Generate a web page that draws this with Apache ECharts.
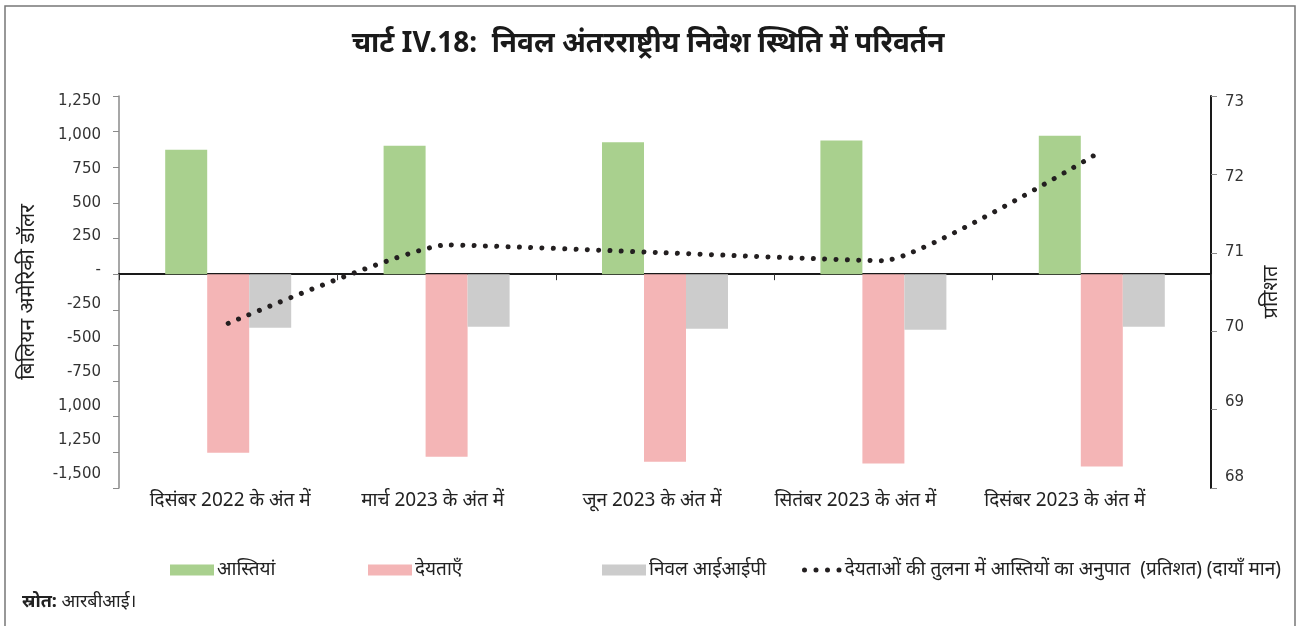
<!DOCTYPE html>
<html>
<head>
<meta charset="utf-8">
<script src="https://cdn.jsdelivr.net/npm/echarts@6/dist/echarts.min.js"></script>
<style>
  html, body { margin: 0; padding: 0; background: #ffffff; }
  #chart { width: 1296px; height: 626px; }
</style>
</head>
<body>
<div id="chart"></div>
<script>
// Quarter-end positions
const categories = ['दिसंबर 2022 के अंत में', 'मार्च 2023 के अंत में', 'जून 2023 के अंत में', 'सितंबर 2023 के अंत में', 'दिसंबर 2023 के अंत में'];
// Billion US dollars
const assets = [873, 901, 925, 937, 972];
const liabilities = [-1252, -1280, -1315, -1329, -1350];
const netIIP = [-375, -368, -382, -389, -368];
// Per cent, right scale
const ratio = [70.1, 71.1, 71.0, 70.9, 72.3];

const seriesNames = ['आस्तियां', 'देयताएँ', 'निवल आईआईपी', 'देयताओं की तुलना में आस्तियों का अनुपात  (प्रतिशत) (दायाँ मान)'];
const leftTickValues = [1250, 1000, 750, 500, 250, 0, -250, -500, -750, -1000, -1250, -1500];
const leftTickLabels = ['1,250', '1,000', '750', '500', '250', '-', '-250', '-500', '-750', '1,000', '1,250', '-1,500'];
const rightTickValues = [73, 72, 71, 70, 69, 68];

const FONT = '"Noto Sans", "Liberation Sans", sans-serif';
const NUMFONT = '"DejaVu Sans", sans-serif';
const DOTS = 'path://M0,2.5a2.5,2.5 0 1,0 5,0a2.5,2.5 0 1,0 -5,0M11.5,2.5a2.5,2.5 0 1,0 5,0a2.5,2.5 0 1,0 -5,0M23,2.5a2.5,2.5 0 1,0 5,0a2.5,2.5 0 1,0 -5,0M34.5,2.5a2.5,2.5 0 1,0 5,0a2.5,2.5 0 1,0 -5,0';

// Plot box (px)
const PLOT_TOP = 96, PLOT_BOTTOM = 488;

// Tick labels sit on their own even spacing, a little tighter than the ticks.
function labelShift(i, count, firstY, step) {
  const tickY = PLOT_TOP + i * (PLOT_BOTTOM - PLOT_TOP) / (count - 1);
  return firstY + i * step - tickY;
}
function vRich(count, firstY, step, font, size) {
  const rich = {};
  for (let i = 0; i < count; i++) {
    const d = labelShift(i, count, firstY, step);
    rich['t' + i] = {
      fontFamily: font, fontSize: size, color: '#333',
      padding: d >= 0 ? [2 * d, 0, 0, 0] : [0, 0, -2 * d, 0]
    };
  }
  return rich;
}
const leftRich = vRich(leftTickValues.length, 101, 33.9, NUMFONT, 15);
const rightRich = vRich(rightTickValues.length, 102, 75, NUMFONT, 15);

// Horizontal nudges of the category labels (px, + to the right)
const catShift = [2, -14, -13, -28, -37];
const catRich = {};
catShift.forEach(function (s, i) {
  catRich['c' + i] = {
    fontFamily: FONT, fontSize: 19, color: '#222',
    padding: s >= 0 ? [0, 0, 0, 2 * s] : [0, -2 * s, 0, 0]
  };
});

function legendAt(name, left, icon, w, h, color) {
  return {
    data: [{ name: name, icon: icon, itemStyle: { color: color, borderWidth: 0 } }],
    left: left, top: 553,
    itemWidth: w, itemHeight: h, itemGap: 0,
    selectedMode: false,
    textStyle: { fontFamily: FONT, fontSize: 19, color: '#222', lineHeight: 24, padding: [0, 0, 0, -2] }
  };
}

const chart = echarts.init(document.getElementById('chart'), null, { renderer: 'canvas' });
chart.setOption({
  backgroundColor: '#ffffff',
  animation: false,
  title: {
    text: 'चार्ट IV.18:  निवल अंतरराष्ट्रीय निवेश स्थिति में परिवर्तन',
    left: 'center', top: 25,
    textStyle: { fontFamily: FONT, fontSize: 28, fontWeight: 'bold', color: '#1a1a1a' }
  },
  graphic: [
    { type: 'rect', shape: { x: 5, y: 6, width: 1290, height: 640 }, style: { fill: 'none', stroke: '#777', lineWidth: 1.5 }, silent: true },
    {
      type: 'text', left: 22, top: 593,
      style: {
        text: '{b|स्रोत:} आरबीआई।',
        font: '18px ' + FONT, fill: '#222',
        rich: { b: { fontWeight: 'bold', fontSize: 18, fontFamily: FONT, fill: '#222' } }
      }
    }
  ],
  legend: [
    legendAt(seriesNames[0], 165, 'rect', 44, 11, '#a9d08e'),
    legendAt(seriesNames[1], 363, 'rect', 44, 11, '#f4b5b6'),
    legendAt(seriesNames[2], 597, 'rect', 44, 11, '#cccccc'),
    legendAt(seriesNames[3], 797, DOTS, 40, 5, '#231f20')
  ],
  grid: { left: 119, right: 85, top: PLOT_TOP, bottom: 626 - PLOT_BOTTOM, containLabel: false },
  xAxis: [
    {
      type: 'category', data: categories, position: 'bottom',
      axisLine: { show: false, onZero: false }, axisTick: { show: false },
      axisLabel: {
        margin: 3, interval: 0, rich: catRich,
        formatter: function (v, i) { return '{c' + i + '|' + v + '}'; }
      }
    },
    {
      type: 'category', data: categories, position: 'bottom',
      axisLine: { show: true, onZero: true, onZeroAxisIndex: 0, lineStyle: { color: '#1a1a1a', width: 2 } },
      axisTick: { show: true, length: 6, lineStyle: { color: '#333', width: 1 } },
      axisLabel: { show: false }
    }
  ],
  yAxis: [
    {
      type: 'value', min: -1500, max: 1250, interval: 250, position: 'left',
      name: 'बिलियन अमेरिकी डॉलर', nameLocation: 'middle', nameRotate: 90, nameGap: 80,
      nameTextStyle: { fontFamily: FONT, fontSize: 21, color: '#222' },
      axisLine: { show: true, lineStyle: { color: '#8a8a8a', width: 1.5 } },
      axisTick: { show: true, length: 6, lineStyle: { color: '#8a8a8a' } },
      splitLine: { show: false },
      axisLabel: {
        margin: 18, rich: leftRich,
        formatter: function (v) {
          const i = leftTickValues.indexOf(v);
          return i >= 0 ? '{t' + i + '|' + leftTickLabels[i] + '}' : '';
        }
      }
    },
    {
      type: 'value', min: 68, max: 73, interval: 1, position: 'right',
      name: 'प्रतिशत', nameLocation: 'middle', nameRotate: 90, nameGap: 50,
      nameTextStyle: { fontFamily: FONT, fontSize: 20, color: '#222' },
      axisLine: { show: true, lineStyle: { color: '#1a1a1a', width: 2 } },
      axisTick: { show: true, length: 6, lineStyle: { color: '#8a8a8a' } },
      splitLine: { show: false },
      axisLabel: {
        margin: 14, rich: rightRich,
        formatter: function (v) {
          const i = rightTickValues.indexOf(v);
          return i >= 0 ? '{t' + i + '|' + v + '}' : '';
        }
      }
    }
  ],
  series: [
    { name: seriesNames[0], type: 'bar', data: assets, xAxisIndex: 0, yAxisIndex: 0, barWidth: 42, barGap: '0%', itemStyle: { color: '#a9d08e' } },
    { name: seriesNames[1], type: 'bar', data: liabilities, xAxisIndex: 0, yAxisIndex: 0, barWidth: 42, barGap: '0%', itemStyle: { color: '#f4b5b6' } },
    { name: seriesNames[2], type: 'bar', data: netIIP, xAxisIndex: 0, yAxisIndex: 0, barWidth: 42, barGap: '0%', itemStyle: { color: '#cccccc' } },
    {
      name: seriesNames[3], type: 'line', data: ratio, xAxisIndex: 0, yAxisIndex: 1,
      smooth: 0.15, showSymbol: false, symbol: 'none', z: 5,
      itemStyle: { color: '#231f20' },
      lineStyle: { color: '#231f20', width: 5, type: [0.01, 11.3], cap: 'round' }
    }
  ]
});
</script>
</body>
</html>
